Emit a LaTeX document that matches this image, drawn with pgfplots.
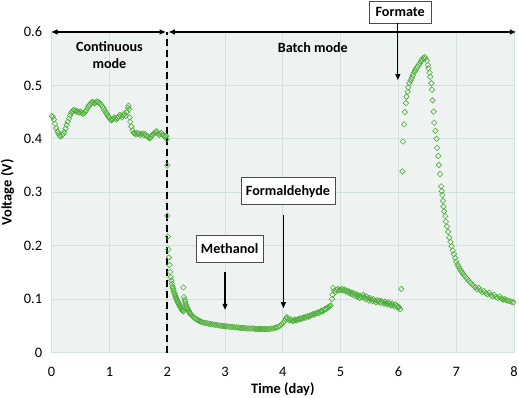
\documentclass[border=0pt]{standalone}
\usepackage{fontspec}
\setmainfont{Carlito}
\usepackage{pgfplots}
\usepackage{pgfplotstable}
\pgfplotsset{compat=1.18}
\usetikzlibrary{arrows.meta}
\definecolor{ptgreen}{HTML}{4EAE3A}
\definecolor{plotbg}{HTML}{EEF3F1}
\definecolor{gridc}{HTML}{D3E2DF}

% voltage readings, continuous mode (day 0-2)
\pgfplotstableread{
x y
0.00 0.443
0.02 0.441
0.04 0.436
0.06 0.428
0.08 0.420
0.10 0.414
0.12 0.410
0.14 0.406
0.16 0.404
0.18 0.407
0.20 0.409
0.22 0.413
0.24 0.419
0.26 0.426
0.28 0.432
0.30 0.438
0.32 0.444
0.34 0.449
0.36 0.452
0.38 0.454
0.40 0.453
0.42 0.451
0.44 0.452
0.46 0.450
0.48 0.449
0.50 0.451
0.52 0.449
0.54 0.447
0.56 0.448
0.58 0.450
0.60 0.453
0.62 0.457
0.64 0.461
0.66 0.464
0.68 0.467
0.70 0.469
0.72 0.468
0.74 0.466
0.76 0.468
0.78 0.470
0.80 0.469
0.82 0.468
0.84 0.466
0.86 0.463
0.88 0.460
0.90 0.457
0.92 0.453
0.94 0.449
0.96 0.446
0.98 0.442
1.00 0.439
1.02 0.436
1.04 0.435
1.06 0.437
1.08 0.440
1.10 0.438
1.12 0.436
1.14 0.439
1.16 0.442
1.18 0.445
1.20 0.443
1.22 0.440
1.24 0.444
1.26 0.447
1.28 0.443
1.30 0.450
1.32 0.458
1.33 0.462
1.34 0.455
1.35 0.440
1.36 0.432
1.38 0.423
1.40 0.416
1.42 0.411
1.44 0.410
1.46 0.408
1.48 0.411
1.50 0.409
1.52 0.410
1.54 0.407
1.56 0.409
1.58 0.410
1.60 0.407
1.62 0.409
1.64 0.406
1.66 0.404
1.68 0.402
1.70 0.401
1.72 0.404
1.74 0.407
1.76 0.409
1.78 0.411
1.80 0.413
1.82 0.414
1.84 0.410
1.86 0.407
1.88 0.409
1.90 0.411
1.92 0.408
1.94 0.406
1.96 0.404
1.98 0.405
1.99 0.399
}\contdata

% batch mode (day 2-8)
\pgfplotstableread{
x y
2.00 0.350
2.00 0.256
2.01 0.217
2.02 0.193
2.03 0.178
2.04 0.164
2.05 0.151
2.06 0.141
2.07 0.135
2.08 0.129
2.09 0.124
2.10 0.120
2.11 0.116
2.12 0.112
2.13 0.109
2.14 0.106
2.15 0.103
2.16 0.100
2.17 0.098
2.18 0.095
2.19 0.093
2.20 0.091
2.21 0.089
2.22 0.087
2.23 0.085
2.24 0.083
2.25 0.081
2.26 0.079
2.27 0.078
2.28 0.077
2.28 0.122
2.29 0.104
2.30 0.099
2.31 0.095
2.32 0.091
2.33 0.088
2.34 0.085
2.35 0.082
2.36 0.080
2.37 0.078
2.38 0.076
2.39 0.074
2.40 0.072
2.42 0.070
2.44 0.068
2.46 0.066
2.48 0.064
2.50 0.063
2.52 0.061
2.54 0.060
2.56 0.059
2.58 0.058
2.60 0.057
2.63 0.056
2.66 0.055
2.69 0.055
2.72 0.054
2.75 0.053
2.78 0.053
2.81 0.052
2.84 0.052
2.87 0.051
2.90 0.051
2.93 0.050
2.96 0.050
2.99 0.049
3.02 0.049
3.05 0.049
3.08 0.048
3.11 0.048
3.14 0.048
3.17 0.047
3.20 0.047
3.23 0.047
3.26 0.046
3.29 0.046
3.32 0.046
3.35 0.046
3.38 0.045
3.41 0.045
3.44 0.045
3.47 0.045
3.50 0.045
3.53 0.044
3.56 0.044
3.59 0.044
3.62 0.044
3.65 0.044
3.68 0.044
3.71 0.044
3.74 0.044
3.77 0.044
3.80 0.045
3.83 0.045
3.86 0.046
3.89 0.047
3.92 0.048
3.95 0.050
3.98 0.053
4.01 0.056
4.03 0.059
4.05 0.063
4.07 0.066
4.09 0.063
4.11 0.060
4.13 0.062
4.15 0.061
4.17 0.059
4.19 0.060
4.21 0.062
4.23 0.060
4.25 0.061
4.27 0.063
4.29 0.062
4.31 0.064
4.33 0.063
4.35 0.065
4.37 0.066
4.39 0.065
4.41 0.067
4.43 0.068
4.45 0.067
4.47 0.069
4.49 0.070
4.51 0.071
4.53 0.072
4.55 0.071
4.57 0.073
4.59 0.074
4.61 0.075
4.63 0.074
4.65 0.077
4.67 0.078
4.69 0.077
4.71 0.080
4.73 0.082
4.75 0.081
4.77 0.084
4.79 0.085
4.81 0.087
4.83 0.088
4.85 0.100
4.86 0.108
4.87 0.121
4.89 0.116
4.91 0.113
4.93 0.117
4.95 0.119
4.97 0.116
4.99 0.118
5.01 0.117
5.03 0.119
5.05 0.116
5.07 0.118
5.09 0.114
5.11 0.116
5.13 0.112
5.15 0.114
5.17 0.110
5.19 0.112
5.21 0.108
5.23 0.111
5.25 0.106
5.27 0.109
5.29 0.104
5.31 0.107
5.33 0.102
5.35 0.106
5.37 0.103
5.39 0.108
5.41 0.104
5.43 0.100
5.45 0.105
5.47 0.101
5.49 0.097
5.51 0.102
5.53 0.099
5.55 0.096
5.57 0.100
5.59 0.097
5.61 0.094
5.63 0.098
5.65 0.095
5.67 0.097
5.69 0.093
5.71 0.096
5.73 0.094
5.75 0.091
5.77 0.095
5.79 0.092
5.81 0.090
5.83 0.094
5.85 0.091
5.87 0.088
5.89 0.092
5.91 0.089
5.93 0.086
5.95 0.090
5.97 0.087
5.99 0.084
6.01 0.085
6.03 0.081
6.05 0.119
6.07 0.339
6.08 0.395
6.10 0.427
6.11 0.450
6.13 0.467
6.14 0.479
6.16 0.488
6.17 0.496
6.19 0.504
6.21 0.509
6.23 0.514
6.25 0.519
6.27 0.524
6.29 0.528
6.31 0.532
6.33 0.535
6.35 0.538
6.37 0.541
6.39 0.545
6.41 0.548
6.43 0.551
6.45 0.553
6.47 0.551
6.49 0.546
6.51 0.538
6.52 0.532
6.54 0.524
6.55 0.516
6.57 0.504
6.58 0.492
6.59 0.472
6.61 0.451
6.62 0.430
6.64 0.415
6.66 0.400
6.67 0.383
6.69 0.368
6.70 0.351
6.72 0.334
6.74 0.311
6.75 0.302
6.76 0.295
6.77 0.284
6.78 0.273
6.79 0.264
6.81 0.255
6.82 0.245
6.84 0.236
6.86 0.226
6.88 0.215
6.90 0.207
6.92 0.199
6.94 0.191
6.96 0.184
6.98 0.177
7.00 0.170
7.02 0.165
7.04 0.161
7.06 0.157
7.08 0.153
7.10 0.150
7.12 0.147
7.15 0.143
7.18 0.139
7.21 0.135
7.24 0.131
7.27 0.128
7.30 0.125
7.33 0.122
7.36 0.118
7.39 0.121
7.42 0.116
7.45 0.113
7.48 0.115
7.51 0.111
7.54 0.109
7.57 0.112
7.60 0.107
7.63 0.105
7.66 0.108
7.69 0.104
7.72 0.102
7.75 0.105
7.78 0.101
7.81 0.099
7.84 0.100
7.87 0.098
7.90 0.097
7.93 0.096
7.96 0.095
7.99 0.094
}\batchdata

\begin{document}
\begin{tikzpicture}[font=\fontsize{14.5}{17}\selectfont]
\begin{axis}[
    scale only axis,
    width=463bp, height=321bp,
    xmin=0, xmax=8, ymin=0, ymax=0.6,
    xtick={0,1,...,8},
    ytick={0,0.1,0.2,0.3,0.4,0.5,0.6},
    yticklabel style={/pgf/number format/fixed, /pgf/number format/precision=1},
    /pgf/number format/assume math mode=true,
    ticklabel style={font=\fontsize{14.5}{17}\selectfont},
    axis line style={draw=none},
    major tick length=0pt,
    grid=major,
    grid style={gridc, line width=0.7pt},
    axis background/.style={fill=plotbg},
    xlabel={\bfseries Time (day)},
    ylabel={\bfseries Voltage (V)},
    label style={font=\fontsize{14.5}{17}\selectfont},
    xlabel style={at={(axis description cs:0.5,0)}, anchor=center, yshift=-37bp},
    ylabel style={yshift=3pt},
    xticklabel style={anchor=center, yshift=-19bp},
    yticklabel style={xshift=-6pt},
    clip=false,
]
\addplot[only marks, mark=square, mark size=1.95pt,
    mark options={draw=ptgreen, fill=none, line width=0.6pt, rotate=45}]
    table[x=x, y=y] {\contdata};
\addplot[only marks, mark=square, mark size=1.95pt,
    mark options={draw=ptgreen, fill=none, line width=0.6pt, rotate=45}]
    table[x=x, y=y] {\batchdata};

% mode separator and mode arrows
\draw[black, line width=1.6pt, dash pattern=on 7pt off 4pt] (axis cs:2,0) -- (axis cs:2,0.6);
\draw[line width=1.1pt, {Triangle[length=6pt,width=5pt]}-{Triangle[length=6pt,width=5pt]}]
    (axis cs:0,0.6) -- (axis cs:1.97,0.6);
\draw[line width=1.1pt, {Triangle[length=6pt,width=5pt]}-{Triangle[length=6pt,width=5pt]}]
    (axis cs:2.03,0.6) -- (axis cs:8.03,0.6);
\node[font=\fontsize{14.2}{16.5}\selectfont\bfseries, align=center] at (axis cs:1,0.557) {Continuous\\mode};
\node[font=\fontsize{14.2}{16.5}\selectfont\bfseries] at (axis cs:4.52,0.57) {Batch mode};

% substrate annotations
\node[draw=black!70, fill=white, font=\fontsize{14.2}{16.5}\selectfont\bfseries, minimum width=62bp, minimum height=22bp] at (axis cs:6.03,0.637) {Formate};
\draw[line width=1.1pt, -{Triangle[length=6pt,width=5pt]}] (axis cs:5.99,0.617) -- (axis cs:5.99,0.51);
\node[draw=black!70, fill=white, font=\fontsize{14.2}{16.5}\selectfont\bfseries, minimum width=67bp, minimum height=27bp] at (axis cs:3.08,0.195) {Methanol};
\draw[line width=1.1pt, -{Triangle[length=6pt,width=5pt]}] (axis cs:3,0.150) -- (axis cs:3,0.080);
\node[draw=black!70, fill=white, font=\fontsize{14.2}{16.5}\selectfont\bfseries, minimum width=94bp, minimum height=27bp] at (axis cs:4.09,0.302) {Formaldehyde};
\draw[line width=1.1pt, -{Triangle[length=6pt,width=5pt]}] (axis cs:4.01,0.258) -- (axis cs:4.01,0.083);
\end{axis}
\pgfresetboundingbox
\path[use as bounding box] (current axis.south west) ++(-51.7bp,-45bp) rectangle ([shift={(5bp,32bp)}]current axis.north east);
\end{tikzpicture}
\end{document}
